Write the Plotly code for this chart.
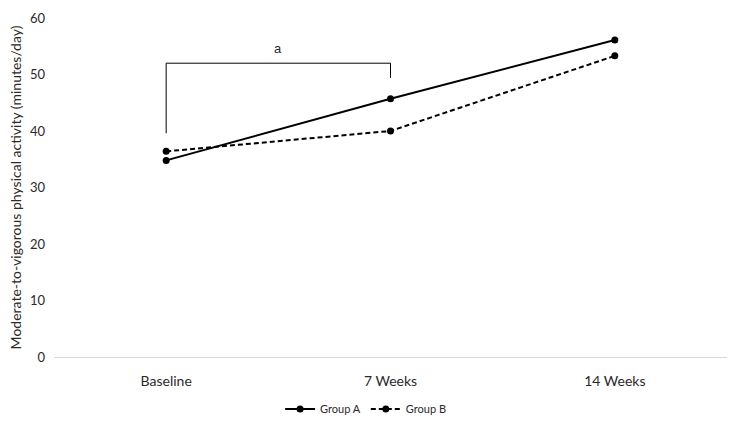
import plotly.graph_objects as go

categories = ["Baseline", "7 Weeks", "14 Weeks"]
group_a = [34.8, 45.7, 56.1]
group_b = [36.4, 40.0, 53.3]
y_ticks = [0, 10, 20, 30, 40, 50, 60]
bracket_from, bracket_to = "Baseline", "7 Weeks"
bracket_left_bottom, bracket_top, bracket_right_bottom = 39.6, 52.0, 49.4
bracket_label = "a"

font = "Lato, Carlito, Calibri, sans-serif"
txt = "#2a2a2a"

fig = go.Figure()
fig.add_trace(go.Scatter(x=categories, y=group_a, name="Group A", mode="lines+markers",
                         line=dict(color="black", width=2, dash="solid"),
                         marker=dict(color="black", size=7)))
fig.add_trace(go.Scatter(x=categories, y=group_b, name="Group B", mode="lines+markers",
                         line=dict(color="black", width=2, dash="5px,3px"),
                         marker=dict(color="black", size=7)))

# significance bracket
fig.add_trace(go.Scatter(x=[bracket_from, bracket_from, bracket_to, bracket_to],
                         y=[bracket_left_bottom, bracket_top, bracket_top, bracket_right_bottom],
                         mode="lines", line=dict(color="black", width=1),
                         showlegend=False, hoverinfo="skip"))
fig.add_annotation(x=0.5, y=bracket_top + 1.0, xref="x", yref="y", text=bracket_label,
                   showarrow=False, yanchor="bottom",
                   font=dict(size=13, color=txt, family="Liberation Sans, Arial, sans-serif"))

fig.update_layout(
    width=736, height=431,
    margin=dict(l=54, r=9, t=18, b=73),
    paper_bgcolor="white", plot_bgcolor="white",
    font=dict(family=font, size=12, color=txt),
    showlegend=True,
    legend=dict(orientation="h", x=0.463, xanchor="center",
                y=-0.15, yanchor="middle",
                font=dict(size=11, color=txt), itemwidth=30, tracegroupgap=0),
    xaxis=dict(type="category", range=[-0.5, 2.5], showgrid=False, showline=True,
               linecolor="#d9d9d9", linewidth=1, ticks="", tickfont=dict(size=14, color=txt),
               ticklabelstandoff=11, zeroline=False, automargin=False),
    yaxis=dict(range=[0, 60], tickvals=y_ticks, showgrid=False, showline=False, zeroline=False,
               ticks="", tickfont=dict(size=13, color=txt), ticklabelstandoff=8,
               automargin=False,
               title=dict(text="Moderate-to-vigorous physical activity (minutes/day)",
                          font=dict(size=14, color=txt), standoff=5)),
)

fig.write_html("out.html", config={"displayModeBar": False},
               post_script="document.body.style.margin='0';document.body.style.overflow='hidden';")
